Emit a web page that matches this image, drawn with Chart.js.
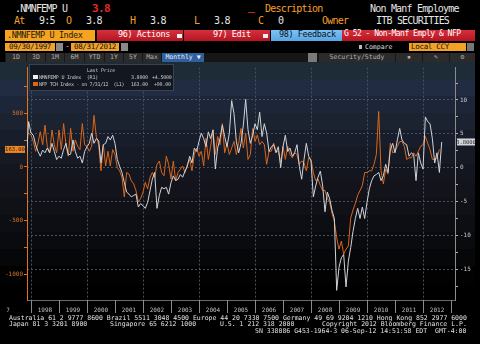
<!DOCTYPE html>
<html>
<head>
<meta charset="utf-8">
<script src="https://cdn.jsdelivr.net/npm/chart.js@4/dist/chart.umd.min.js"></script>
<style>
html,body{margin:0;padding:0;background:#000;width:480px;height:344px;overflow:hidden;}
body{position:relative;font-family:"DejaVu Sans Mono",monospace;}
.a{position:absolute;white-space:pre;line-height:1;}
.h{font-size:10px;letter-spacing:-0.8px;}
.o{color:#f3a02c;}
.w{color:#e6e6e6;}
.bar{position:absolute;height:11px;top:30px;font-size:8.5px;letter-spacing:-0.4px;line-height:11px;white-space:pre;}
.red{background:linear-gradient(#d8303c,#b41422);color:#fff;}
.sq{position:absolute;width:5px;height:4px;background:#eee;top:4px;}
.box{position:absolute;top:43px;height:8px;background:#f4a227;color:#111;font-size:7.5px;line-height:8px;letter-spacing:-0.3px;white-space:pre;}
.ic{position:absolute;top:43px;width:7px;height:8px;background:#8a8a8a;}
.tb{position:absolute;top:53px;height:9px;background:#2b2b2b;color:#b0b0b0;font-size:6.5px;line-height:9px;text-align:center;}
.ft{position:absolute;left:9px;font-size:6.5px;color:#e0e0e0;white-space:pre;line-height:1;}
#wrap{position:absolute;left:0;top:62px;width:475px;height:254px;}
#leg{position:absolute;left:29px;top:2px;width:143px;height:25px;background:rgba(18,22,30,0.92);border:1px solid #3c434e;font-size:5px;color:#c8c8c8;}
#leg .a{letter-spacing:-0.2px;}
.ls{position:absolute;width:5px;height:4px;}
</style>
</head>
<body>
<!-- header row 1 -->
<div class="a h w" style="left:15px;top:4px">.NMNFEMP U</div>
<div class="a" style="left:92px;top:3px;font-size:11px;font-weight:bold;color:#e42a2a;letter-spacing:-0.6px">3.8</div>
<div class="a" style="left:248px;top:12px;width:7px;height:1px;background:#d02020"></div>
<div class="a h o" style="left:265px;top:4px">Description</div>
<div class="a h w" style="left:370px;top:4px">Non Manf Employme</div>
<!-- header row 2 -->
<div class="a h o" style="left:14px;top:16px">At</div>
<div class="a h w" style="left:39px;top:16px">9:5</div>
<div class="a h o" style="left:66px;top:16px">O</div>
<div class="a h w" style="left:86px;top:16px">3.8</div>
<div class="a h o" style="left:130px;top:16px">H</div>
<div class="a h w" style="left:150px;top:16px">3.8</div>
<div class="a h o" style="left:194px;top:16px">L</div>
<div class="a h w" style="left:214px;top:16px">3.8</div>
<div class="a h o" style="left:258px;top:16px">C</div>
<div class="a h w" style="left:278px;top:16px">0</div>
<div class="a h o" style="left:322px;top:16px">Owner</div>
<div class="a h w" style="left:376px;top:16px">ITB SECURITIES</div>
<!-- row 3 -->
<div class="bar" style="left:5px;width:90px;background:#f6a31d;color:#1a1a1a;padding-left:2px;box-sizing:border-box">.NMNFEMP U Index</div>
<div class="bar red" style="left:97px;width:86px"><span class="a" style="left:21px">96) Actions</span><div class="sq" style="left:80px"></div></div>
<div class="bar red" style="left:184px;width:86px"><span class="a" style="left:29px">97) Edit</span><div class="sq" style="left:79px"></div></div>
<div class="bar" style="left:271px;width:71px;background:linear-gradient(#7cc2f4,#58a6e4);color:#112"><span class="a" style="left:8px">98) Feedback</span></div>
<div class="bar red" style="left:342px;width:133px;letter-spacing:-0.5px;font-size:8px"><span class="a" style="left:2px">G 52 - Non-Manf Emply &amp; NFP</span></div>
<!-- row 4 -->
<div class="box" style="left:5px;width:50px;text-align:center">09/30/1997</div>
<div class="ic" style="left:56px"></div>
<div class="a o" style="left:65px;top:43px;font-size:8px">-</div>
<div class="box" style="left:71px;width:48px;text-align:center">08/31/2012</div>
<div class="ic" style="left:121px"></div>
<div class="a" style="left:359px;top:45px;width:3px;height:4px;background:#bbb"></div>
<div class="a" style="left:365px;top:44px;font-size:6.5px;color:#ddd">Compare</div>
<div class="box" style="left:409px;width:57px;padding-left:2px;box-sizing:border-box">Local CCY</div>
<div class="ic" style="left:467px;background:#777"></div>
<!-- row 5 -->
<div class="a" style="left:5px;top:53px;width:470px;height:9px;background:#161616"></div>
<div class="tb" style="left:6px;width:20px">1D</div>
<div class="tb" style="left:27px;width:18px">3D</div>
<div class="tb" style="left:46px;width:18px">1M</div>
<div class="tb" style="left:65px;width:19px">6M</div>
<div class="tb" style="left:85px;width:19px">YTD</div>
<div class="tb" style="left:105px;width:18px">1Y</div>
<div class="tb" style="left:124px;width:18px">5Y</div>
<div class="tb" style="left:143px;width:18px">Max</div>
<div class="tb" style="left:162px;width:42px;background:#2e5f9f;color:#f0f0f0">Monthly ▼</div>
<div class="tb" style="left:308px;width:9px;background:#7a7a7a"></div>
<div class="tb" style="left:319px;width:76px">  Security/Study</div>
<div class="tb" style="left:396px;width:26px">▪</div>
<div class="tb" style="left:423px;width:26px">✎</div>
<div class="tb" style="left:450px;width:25px">⚙</div>

<div id="wrap">
  <canvas id="c" width="475" height="254"></canvas>
  <div id="leg">
    <div class="a" style="left:57px;top:3px">Last Price</div>
    <div class="ls" style="left:3px;top:10px;background:#eee"></div>
    <div class="a" style="left:9px;top:10px">NMNFEMP U Index  (R1)</div>
    <div class="a" style="left:101px;top:10px">3.8000</div>
    <div class="a" style="left:122px;top:10px">+4.5000</div>
    <div class="ls" style="left:3px;top:17px;background:#e2660e"></div>
    <div class="a" style="left:9px;top:17px;letter-spacing:-0.35px">NFP TCH Index - on 7/31/12  (L1)</div>
    <div class="a" style="left:101px;top:17px">163.00</div>
    <div class="a" style="left:124px;top:17px">+99.00</div>
  </div>
</div>

<div class="ft" style="top:315px">Australia 61 2 9777 8600 Brazil 5511 3048 4500 Europe 44 20 7330 7500 Germany 49 69 9204 1210 Hong Kong 852 2977 6000</div>
<div class="ft" style="top:321px">Japan 81 3 3201 8900</div>
<div class="ft" style="top:321px;left:110px">Singapore 65 6212 1000</div>
<div class="ft" style="top:321px;left:220px">U.S. 1 212 318 2000</div>
<div class="ft" style="top:321px;left:322px">Copyright 2012 Bloomberg Finance L.P.</div>
<div class="ft" style="top:328px;left:255px">SN 338086 G453-1964-3 06-Sep-12 14:51:58 EDT  GMT-4:00</div>

<script>
// first observation month (values plotted at month end)
const firstYear = 1997, firstMonth = 10;
const years = ['1998','1999','2000','2001','2002','2003','2004','2005','2006','2007','2008','2009','2010','2011','2012'];

// NMNFEMP U Index (right axis), Oct 1997 - Aug 2012
const nmnfemp = [
  1.2, 6.8, 5.1, 4.8, 3.4, 2.4, 1.7, 2.6, 2.2, 2.9, 2.2, 3.6,
  2.4, 1.2, 1.7, 1.4, 2.7, 3.6, 1.9, 2.0, 4.1, 2.4, 1.4, 1.7,
  0.7, 2.4, 3.1, 3.6, 5.1, 3.6, 4.3, 4.0, 0.7, 3.4, 3.6, 4.6,
  4.1, 4.8, 3.6, 1.2, 0.2, -0.7, -2.2, -3.6, -3.9, -4.3, -4.1, -3.9,
  -5.8, -5.3, -5.6, -6.0, -5.1, -3.4, -1.7, -0.7, -6.0, -4.1, -2.9, -3.1,
  -2.9, -3.9, -2.2, -1.2, -1.9, -1.7, -1.0, -1.4, -0.5, 0.2, 1.7, 0.7,
  2.9, 2.4, 3.9, 5.1, 4.3, 3.1, 5.3, 4.3, 5.6, -0.2, 2.9, 4.3,
  6.3, 4.6, 3.1, 5.1, 9.9, 8.0, 3.9, 2.2, 3.6, 6.3, 10.1, 5.6,
  3.6, 4.8, 6.5, 5.6, 8.2, 4.6, 6.5, 5.1, 2.4, 3.1, 3.4, 2.2,
  3.1, 0.0, 3.1, 4.8, 2.4, 2.9, 1.7, 2.2, 3.4, 0.2, -1.7, 1.2,
  3.6, 1.7, 1.0, -4.3, -2.7, -1.4, -0.5, -2.7, -6.5, -3.6, -4.6, -6.3,
  -7.5, -18.1, -14.7, -13.3, -12.8, -17.6, -13.8, -11.8, -9.4, -7.5, -6.0, -7.5,
  -5.8, -7.5, -5.1, -3.1, -1.9, -1.2, -1.0, -0.7, -1.9, -1.2, 0.5, -0.7,
  2.7, 3.6, 2.2, 4.1, 5.8, 4.1, 3.6, 3.4, 1.7, 2.2, 1.9, -1.9,
  2.2, 0.7, -0.2, 7.5, 6.8, 6.5, 4.3, 0.7, 2.2, -0.7, 3.8
];

// NFP TCH Index (left axis, thousands), Oct 1997 - Jul 2012
const nfp = [
  313, 313, 298, 237, 146, 222, 328, 207, 389, 192, 131, 344,
  207, 131, 344, 161, 404, 207, 100, 359, 146, 252, 192, 161,
  404, 207, 192, 146, 192, 480, 283, 207, -36, 207, 9, 146,
  9, 161, 116, -6, -36, -97, -280, -52, -67, -128, -158, -219,
  -325, -295, -234, -143, -204, -97, -52, -97, 24, 55, -52, -82,
  100, 24, -112, 55, -128, -52, -21, 9, -52, 24, 70, -36,
  116, 176, 100, 146, 9, 268, 70, 192, 344, 116, 283, 207,
  404, 131, 222, 116, 176, 237, 116, 222, 359, 176, 313, 70,
  116, 359, 237, 298, 207, 237, 207, 24, 146, 146, 222, 146,
  146, 40, 192, 70, 192, 116, 85, 131, 116, 24, 55, 40,
  -36, 85, 70, -52, -128, -112, -173, -219, -219, -295, -325, -432,
  -508, -660, -766, -690, -812, -766, -736, -477, -401, -340, -264, -219,
  -173, -52, -52, -36, -36, 24, 116, 517, -36, -158, -21, -67,
  222, 131, 146, 192, 237, 237, 192, 70, 85, 85, 131, 100,
  146, 192, 207, 283, 222, 161, 70, 70, 85, 163
];

const leftLabels = [-1000, -500, 0, 500];
const rightLabels = [-15, -10, -5, 0, 5, 10];

// months since Jan 1998, at the end of each observation month
const monthPos = i => (firstYear - 1998) * 12 + (firstMonth - 1) + 1 + i;
const toPoints = arr => arr.map((v, i) => ({x: monthPos(i), y: v}));

const MONO = 'DejaVu Sans Mono';

const bloombergBg = {
  id: 'bloombergBg',
  beforeDraw(chart) {
    const {ctx, chartArea} = chart;
    const bands = ['#1e2c37', '#212c42', '#1d2639', '#1b2230', '#171d2a', '#161a25',
      '#13161f', '#13141b', '#101117', '#0d0e13', '#0a0b0e', '#060708', '#020203', '#000'];
    const h = chartArea.bottom;
    ctx.save();
    ctx.fillStyle = '#000';
    ctx.fillRect(0, 0, chart.width, chart.height);
    bands.forEach((c, k) => {
      ctx.fillStyle = c;
      ctx.fillRect(0, Math.round(k * h / bands.length), chart.width, Math.ceil(h / bands.length) + 1);
    });
    ctx.restore();
  },
  beforeDatasetsDraw(chart) {
    const {ctx, chartArea, scales: {x}} = chart;
    ctx.save();
    ctx.strokeStyle = '#465060';
    ctx.lineWidth = 1;
    ctx.setLineDash([2, 2]);
    years.forEach((y, k) => {
      if (k % 2) return;
      const px = Math.round(x.getPixelForValue(k * 12)) + 0.5;
      ctx.beginPath();
      ctx.moveTo(px, chartArea.top);
      ctx.lineTo(px, chartArea.bottom);
      ctx.stroke();
    });
    ctx.restore();
  },
  afterDraw(chart) {
    const {ctx, chartArea, scales: {x, yL, yR}} = chart;
    ctx.save();
    // year separators in the date strip
    ctx.strokeStyle = '#8a8a8a';
    ctx.lineWidth = 1;
    for (let k = 0; k <= years.length; k++) {
      const px = Math.round(x.getPixelForValue(k * 12)) + 0.5;
      ctx.beginPath();
      ctx.moveTo(px, chartArea.bottom);
      ctx.lineTo(px, chartArea.bottom + 13);
      ctx.stroke();
    }
    ctx.fillStyle = '#bbb';
    ctx.font = '6px ' + MONO;
    ctx.textAlign = 'center';
    ctx.textBaseline = 'middle';
    ctx.fillText('7', 8, chartArea.bottom + 10);
    // last value tags
    ctx.font = '5.5px ' + MONO;
    const ly = yL.getPixelForValue(nfp[nfp.length - 1]);
    ctx.fillStyle = '#ee8524';
    ctx.fillRect(5, ly - 3.5, 20, 7);
    ctx.fillStyle = '#1a1a1a';
    ctx.fillText(nfp[nfp.length - 1].toFixed(2), 15, ly + 0.5);
    const ry = yR.getPixelForValue(nmnfemp[nmnfemp.length - 1]);
    ctx.fillStyle = '#d2d6dc';
    ctx.fillRect(457, ry - 3.5, 18, 7);
    ctx.fillStyle = '#222';
    ctx.fillText(nmnfemp[nmnfemp.length - 1].toFixed(4), 466, ry + 0.5);
    ctx.restore();
  }
};

new Chart(document.getElementById('c'), {
  type: 'line',
  data: {
    datasets: [
      {
        label: 'NMNFEMP U Index',
        data: toPoints(nmnfemp),
        yAxisID: 'yR',
        borderColor: '#d0d3d8',
        borderWidth: 1,
        pointRadius: 0,
        tension: 0
      },
      {
        label: 'NFP TCH Index',
        data: toPoints(nfp),
        yAxisID: 'yL',
        borderColor: '#d9661a',
        borderWidth: 1,
        pointRadius: 0,
        tension: 0
      }
    ]
  },
  options: {
    responsive: false,
    animation: false,
    events: [],
    layout: {autoPadding: false, padding: {top: 1, left: 0, right: 0, bottom: 0}},
    plugins: {legend: {display: false}, tooltip: {enabled: false}, title: {display: false}},
    scales: {
      x: {
        type: 'linear',
        min: -1.7,
        max: 181.7,
        afterFit(s) { s.height = 16; },
        afterBuildTicks(s) { s.ticks = years.map((y, k) => ({value: k * 12 + 6})); },
        grid: {display: false, drawTicks: false},
        border: {display: true, color: '#6a6a6a'},
        ticks: {
          autoSkip: false,
          maxRotation: 0,
          padding: 7,
          color: '#c0c0c0',
          font: {family: MONO, size: 6},
          callback: (v, i) => years[i]
        }
      },
      yL: {
        type: 'linear',
        position: 'left',
        min: -1239,
        max: 925,
        afterFit(s) { s.width = 27; },
        grid: {drawOnChartArea: false, color: '#e0741e', tickLength: 3},
        border: {color: '#e0741e', width: 1},
        ticks: {
          stepSize: 250,
          includeBounds: false,
          autoSkip: false,
          maxTicksLimit: 100,
          padding: 1,
          color: '#e0741e',
          font: {family: MONO, size: 6},
          callback: v => leftLabels.includes(v) ? String(v) : ''
        }
      },
      yR: {
        type: 'linear',
        position: 'right',
        min: -19.53,
        max: 14.78,
        afterFit(s) { s.width = 20; },
        grid: {
          color: ctx => rightLabels.includes(ctx.tick && ctx.tick.value) ? '#4a5260' : 'rgba(0,0,0,0)',
          tickColor: '#b0b0b0',
          tickLength: 3
        },
        border: {color: '#8c8c8c', width: 1, dash: [2, 2]},
        ticks: {
          stepSize: 2.5,
          includeBounds: false,
          autoSkip: false,
          maxTicksLimit: 100,
          padding: 2,
          color: '#c8c8c8',
          font: {family: MONO, size: 6},
          callback: v => rightLabels.includes(v) ? String(v) : ''
        }
      }
    }
  },
  plugins: [bloombergBg]
});
</script>
</body>
</html>
